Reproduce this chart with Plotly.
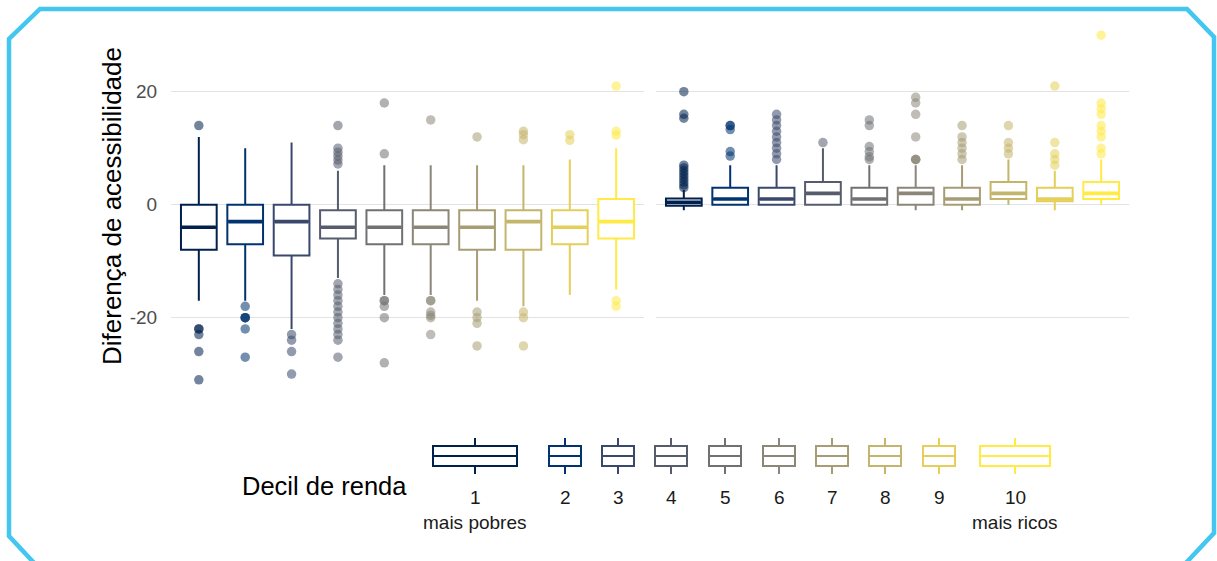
import plotly.graph_objects as go

# ---------------- data ----------------
deciles = [1, 2, 3, 4, 5, 6, 7, 8, 9, 10]
colors = ["#00204D", "#00336F", "#39486B", "#575C6D", "#707173",
          "#8A8779", "#A69D75", "#C4B56C", "#E4CF5B", "#FFEA46"]

# left panel (negative differences)
neg_lo  = [-17, -17, -22, -13, -16, -16, -17, -18, -16, -15]
neg_q1  = [-8, -7, -9, -6, -7, -7, -8, -8, -7, -6]
neg_med = [-4, -3, -3, -4, -4, -4, -4, -3, -4, -3]
neg_q3  = [0, 0, 0, -1, -1, -1, -1, -1, -1, 1]
neg_hi  = [12, 10, 11, 6, 7, 7, 7, 7, 8, 10]
neg_out = [
    [14, -22, -22, -23, -26, -31],
    [-18, -20, -20, -20, -22, -27],
    [-23, -24, -26, -30],
    [14, 10, 9.3, 8.6, 7.9, 7.2, -14, -15, -16, -17, -18, -19, -20, -21, -22, -23, -24, -27],
    [18, 9, -17, -17, -18, -20, -28],
    [15, -17, -17, -19, -19.6, -20, -23],
    [12, -19, -20, -21, -25],
    [13, 12.4, 11.5, -19, -20, -25],
    [12.4, 11.4],
    [21, 13, 12.3, -17, -18],
]

# right panel (positive differences)
pos_lo  = [-1, 0, 0, 0, 0, -1, -1, 0, -1, 0]
pos_q1  = [-0.2, 0, 0, 0, 0, 0, 0, 1, 0.6, 1]
pos_med = [0.4, 1, 1, 2, 1, 2, 1, 2, 1, 2]
pos_q3  = [1.1, 3, 3, 4, 3, 3, 3, 4, 3, 4]
pos_hi  = [2.6, 7, 7, 10, 7, 7, 7, 8, 6, 8]
pos_out = [
    [3, 3.5, 4, 4.5, 5, 5.5, 6, 6.5, 7, 15.3, 16, 20],
    [8.6, 9.4, 13.3, 14, 14],
    [8, 9, 10, 11, 12, 13, 14, 15, 16],
    [11],
    [8, 8.5, 9.4, 10.3, 14, 15],
    [8, 8, 8, 12, 16, 18, 19],
    [8, 9, 10, 11, 12, 14],
    [9, 10, 11, 14],
    [7, 8, 9, 11, 21],
    [9, 10, 12, 13, 14, 16, 17, 18, 30],
]

legend_labels = ["1", "2", "3", "4", "5", "6", "7", "8", "9", "10"]
legend_sub = {1: "mais pobres", 10: "mais ricos"}
y_ticks = [-20, 0, 20]

# ---------------- figure ----------------
W, H = 1217, 561
BOXW = 0.77
FONT = "Liberation Sans, Arial"
fig = go.Figure()


def hex_rgba(h, a):
    h = h.lstrip("#")
    return "rgba(%d,%d,%d,%.2f)" % (int(h[0:2], 16), int(h[2:4], 16), int(h[4:6], 16), a)


for xa, ya, lo, q1, med, q3, hi, outs in [
    ("x", "y", neg_lo, neg_q1, neg_med, neg_q3, neg_hi, neg_out),
    ("x2", "y2", pos_lo, pos_q1, pos_med, pos_q3, pos_hi, pos_out),
]:
    for i, d in enumerate(deciles):
        c = colors[i]
        fig.add_trace(go.Box(
            x=[d], q1=[q1[i]], median=[med[i]], q3=[q3[i]],
            lowerfence=[lo[i]], upperfence=[hi[i]],
            width=BOXW, whiskerwidth=0, boxpoints=False,
            line=dict(color=c, width=2), fillcolor="white",
            xaxis=xa, yaxis=ya, showlegend=False, hoverinfo="skip"))
        # thicker median line (ggplot "fatten")
        fig.add_trace(go.Scatter(
            x=[d - BOXW / 2 + 0.02, d + BOXW / 2 - 0.02], y=[med[i], med[i]],
            mode="lines", line=dict(color=c, width=3.6),
            xaxis=xa, yaxis=ya, showlegend=False, hoverinfo="skip"))
        fig.add_trace(go.Scatter(
            x=[d] * len(outs[i]), y=outs[i], mode="markers",
            marker=dict(size=9.5, color=hex_rgba(c, 0.55), line=dict(width=0)),
            xaxis=xa, yaxis=ya, showlegend=False, hoverinfo="skip"))

# legend glyphs drawn on an overlay axis (pixel-like units)
leg_centers = [475, 565, 618, 671, 725, 779, 832, 885, 939, 1015]
leg_widths = [84, 32, 32, 32, 32, 32, 32, 32, 32, 70]
for i, d in enumerate(deciles):
    fig.add_trace(go.Box(
        x=[leg_centers[i]], q1=[446], median=[456], q3=[466],
        lowerfence=[438], upperfence=[474],
        width=leg_widths[i], whiskerwidth=0, boxpoints=False,
        line=dict(color=colors[i], width=2), fillcolor="white",
        xaxis="x3", yaxis="y3", showlegend=False, hoverinfo="skip"))

annotations = []
for i, d in enumerate(deciles):
    annotations.append(dict(x=leg_centers[i], y=497, xref="x3", yref="y3",
                            text=legend_labels[i], showarrow=False,
                            font=dict(size=19, color="#1a1a1a", family=FONT)))
    if d in legend_sub:
        annotations.append(dict(x=leg_centers[i], y=522, xref="x3", yref="y3",
                                text=legend_sub[d], showarrow=False,
                                font=dict(size=19, color="#1a1a1a", family=FONT)))
annotations.append(dict(x=324, y=486, xref="x3", yref="y3", text="Decil de renda",
                        showarrow=False, font=dict(size=25.5, color="black", family=FONT)))
annotations.append(dict(x=112, y=206, xref="x3", yref="y3", text="Diferença de acessibilidade",
                        textangle=-90, showarrow=False,
                        font=dict(size=26, color="black", family=FONT)))

frame_path = "M 36,565 L 9,536 L 9,39 L 40,9 L 1187,9 L 1214,37 L 1214,533 L 1184,565"

ydom = [(H - 397) / H, (H - 18) / H]
grid = "#E3E3E3"
fig.update_layout(
    width=W, height=H, margin=dict(l=0, r=0, t=0, b=0),
    paper_bgcolor="white", plot_bgcolor="rgba(0,0,0,0)",
    xaxis=dict(domain=[171 / W, 644 / W], range=[0.4, 10.6], showgrid=False,
               showticklabels=False, zeroline=False, anchor="y"),
    xaxis2=dict(domain=[656 / W, 1129 / W], range=[0.4, 10.6], showgrid=False,
                showticklabels=False, zeroline=False, anchor="y2"),
    yaxis=dict(domain=ydom, range=[-34.05, 33.05], tickvals=y_ticks,
               ticktext=[str(v) for v in y_ticks],
               gridcolor=grid, gridwidth=1.3, zeroline=False, anchor="x",
               ticks="outside", ticklen=9, tickcolor="rgba(0,0,0,0)",
               tickfont=dict(size=19, color="#4D4D4D", family=FONT)),
    yaxis2=dict(domain=ydom, range=[-34.05, 33.05], tickvals=y_ticks,
                showticklabels=False, gridcolor=grid, gridwidth=1.3,
                zeroline=False, anchor="x2"),
    xaxis3=dict(domain=[0, 1], range=[0, W], visible=False, anchor="y3", fixedrange=True),
    yaxis3=dict(domain=[0, 1], range=[H, 0], visible=False, anchor="x3", fixedrange=True),
    annotations=annotations,
    shapes=[dict(type="path", path=frame_path, xref="x3", yref="y3",
                 line=dict(color="#43C6EF", width=4.5), layer="above")],
    font=dict(family=FONT),
)

fig.write_html("out.html", config={"displayModeBar": False},
               post_script="document.body.style.margin='0';document.body.style.overflow='hidden';")
